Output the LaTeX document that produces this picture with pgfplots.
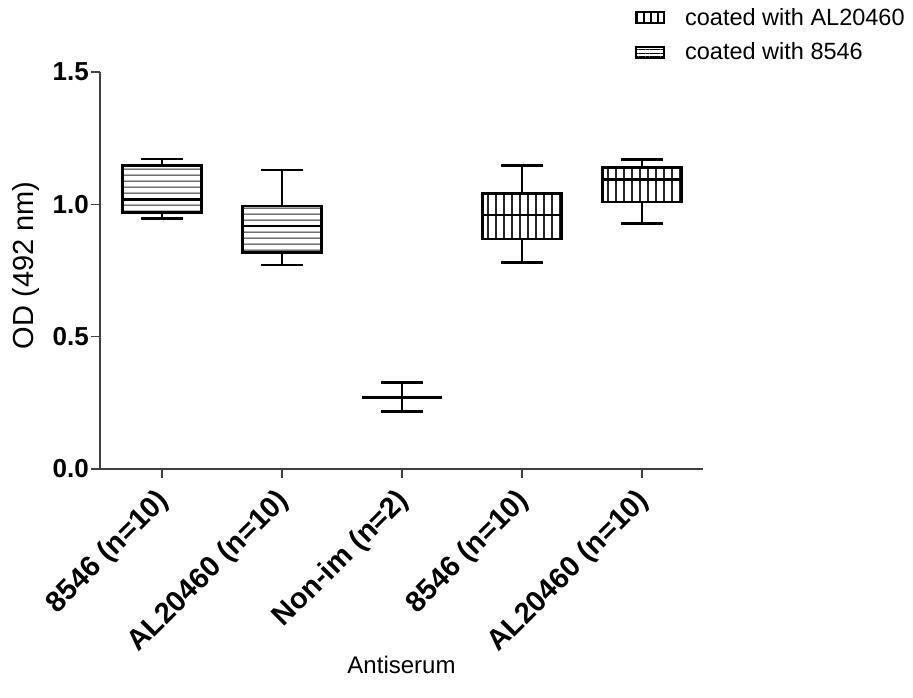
\documentclass[border=0pt]{standalone}
\usepackage{fontspec}
\setmainfont{Liberation Sans}
\usepackage{pgfplots}
\pgfplotsset{compat=1.18}
\usepgfplotslibrary{statistics}
\usetikzlibrary{patterns.meta}
\begin{document}
\begin{tikzpicture}
\useasboundingbox (0pt,0pt) rectangle (913pt,697pt);
\begin{axis}[
  at={(100pt,228pt)}, anchor=south west,
  scale only axis, width=603pt, height=397pt,
  xmin=-0.517, xmax=4.508, ymin=0, ymax=1.5,
  axis lines=left,
  axis line style={-, line width=1.3pt, black!75},
  x axis line style={shorten <=-8pt},
  tick align=outside, major tick length=9pt,
  tick style={line width=1.3pt, black!75},
  xtick={0,1,2,3,4},
  xticklabels={8546 (n=10), AL20460 (n=10), Non-im (n=2), 8546 (n=10), AL20460 (n=10)},
  ytick={0,0.5,1,1.5},
  /pgf/number format/assume math mode=true,
  yticklabel style={/pgf/number format/fixed, /pgf/number format/fixed zerofill, /pgf/number format/precision=1, font=\fontsize{26}{30}\selectfont\bfseries, inner sep=2pt},
  xticklabel style={xshift=4pt, yshift=-17pt, rotate=45, anchor=east, font=\fontsize{29}{32}\selectfont\bfseries, inner sep=2pt},
  ylabel={OD (492 nm)},
  ylabel style={at={(axis description cs:-0.1227,0.513)}, anchor=center, font=\fontsize{29}{32}\selectfont},
  xlabel={Antiserum},
  xlabel style={at={(axis description cs:0.5,-0.493)}, anchor=center, font=\fontsize{24}{28}\selectfont},
  legend style={at={(axis description cs:0.882,1.171)}, anchor=north west, draw=none, fill=none, font=\fontsize{23.5}{28}\selectfont, row sep=12pt, column sep=19pt, cells={anchor=west}},
  boxplot/draw direction=y,
]
\addlegendimage{legend image code/.code={\draw[line width=2.2pt,pattern={Lines[angle=90,distance=7pt,line width=1.1pt]}] (0pt,-5.5pt) rectangle (28pt,5.5pt);}}
\addlegendentry{coated with AL20460}
\addlegendimage{legend image code/.code={\draw[line width=2.2pt,pattern={Lines[angle=0,distance=3.7pt,line width=1.1pt]}] (0pt,-5.5pt) rectangle (28pt,5.5pt);}}
\addlegendentry{coated with 8546}

\addplot[forget plot, draw=black, line width=2.8pt, pattern={Lines[angle=0,distance=6.4pt,line width=1.1pt]}, pattern color=black!85,
  boxplot/draw direction=y, boxplot/box extend=0.66, boxplot/whisker extend=0.345,
  boxplot prepared={draw position=0, lower whisker=0.947, lower quartile=0.968, median=1.017, upper quartile=1.148, upper whisker=1.171}] coordinates {};
\addplot[forget plot, draw=black, line width=2.8pt, pattern={Lines[angle=0,distance=6.4pt,line width=1.1pt]}, pattern color=black!85,
  boxplot/draw direction=y, boxplot/box extend=0.66, boxplot/whisker extend=0.345,
  boxplot prepared={draw position=1, lower whisker=0.771, lower quartile=0.819, median=0.918, upper quartile=0.994, upper whisker=1.130}] coordinates {};
\addplot[forget plot, draw=black, line width=2.8pt,
  boxplot/draw direction=y, boxplot/box extend=0.66, boxplot/whisker extend=0.345,
  boxplot prepared={draw position=2, lower whisker=0.217, lower quartile=0.271, median=0.271, upper quartile=0.271, upper whisker=0.327}] coordinates {};
\addplot[forget plot, draw=black, line width=2.8pt, pattern={Lines[angle=90,distance=8pt,line width=1.1pt]}, pattern color=black!85,
  boxplot/draw direction=y, boxplot/box extend=0.66, boxplot/whisker extend=0.345,
  boxplot prepared={draw position=3, lower whisker=0.781, lower quartile=0.869, median=0.960, upper quartile=1.042, upper whisker=1.146}] coordinates {};
\addplot[forget plot, draw=black, line width=2.8pt, pattern={Lines[angle=90,distance=8pt,line width=1.1pt]}, pattern color=black!85,
  boxplot/draw direction=y, boxplot/box extend=0.66, boxplot/whisker extend=0.345,
  boxplot prepared={draw position=4, lower whisker=0.928, lower quartile=1.009, median=1.094, upper quartile=1.138, upper whisker=1.170}] coordinates {};
\end{axis}
\end{tikzpicture}
\end{document}
